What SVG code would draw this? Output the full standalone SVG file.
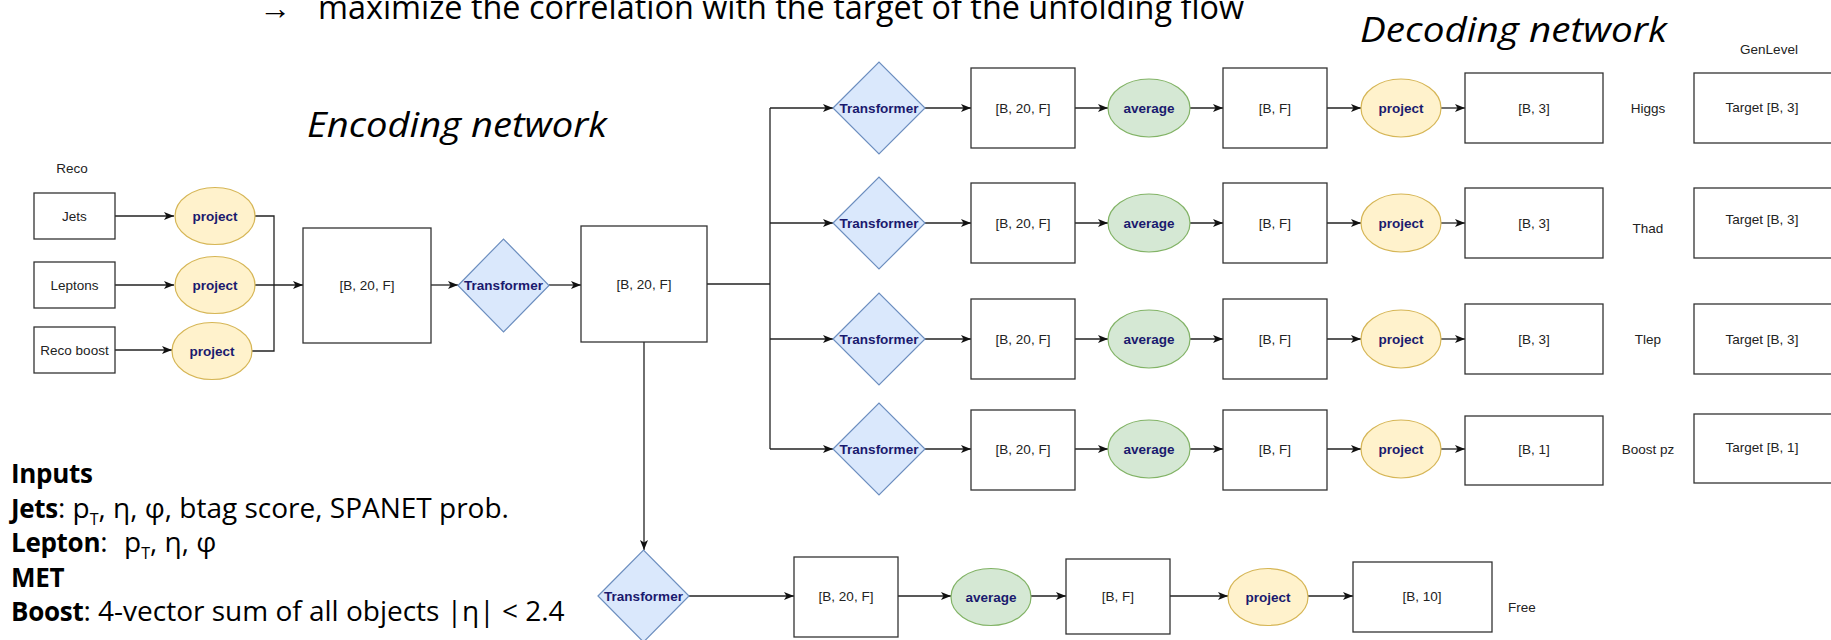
<svg xmlns="http://www.w3.org/2000/svg" width="1831" height="640" viewBox="0 0 1831 640">
<style>
.box{fill:#fff;stroke:#333;stroke-width:1.3}
.dia{fill:#dae8fc;stroke:#6c8ebf;stroke-width:1.2}
.yel{fill:#fff2cc;stroke:#d6b656;stroke-width:1.2}
.grn{fill:#d5e8d4;stroke:#82b366;stroke-width:1.2}
.t{font-family:"Liberation Sans",Arial,sans-serif;font-size:13.5px;fill:#222;text-anchor:middle;dominant-baseline:central}
.b{font-family:"Liberation Sans",Arial,sans-serif;font-size:13.5px;font-weight:bold;fill:#1a1a6e;text-anchor:middle;dominant-baseline:central}
.ln{fill:none;stroke:#222;stroke-width:1.3}
.ar{fill:none;stroke:#222;stroke-width:1.3;marker-end:url(#arr)}
.slide{font-family:"Open Sans","Noto Sans",sans-serif;fill:#000}
.bw{font-weight:bold;font-size:26px;letter-spacing:-0.3px}
</style>
<defs>
<marker id="arr" markerUnits="userSpaceOnUse" markerWidth="11" markerHeight="8" refX="10" refY="4" orient="auto">
<path d="M0,0 L10,4 L0,8 L2.5,4 z" fill="#111"/>
</marker>
</defs>
<rect width="1831" height="640" fill="#fff"/>

<g id="title">
<text class="slide" x="259" y="19" font-size="32">→</text>
<text class="slide" x="318" y="19" font-size="32" textLength="926" lengthAdjust="spacingAndGlyphs">maximize the correlation with the target of the unfolding flow</text>
</g>
<g id="enc-heading"><text class="slide" x="307" y="137" font-size="34" font-style="italic" textLength="300" lengthAdjust="spacingAndGlyphs">Encoding network</text></g>
<g id="dec-heading"><text class="slide" x="1360" y="42" font-size="34" font-style="italic" textLength="307" lengthAdjust="spacingAndGlyphs">Decoding network</text></g>

<g id="inputs" class="slide" font-size="28">
<text x="11" y="483" class="bw">Inputs</text>
<text x="11" y="518"><tspan class="bw">Jets</tspan>: p<tspan dy="7" font-size="16">T</tspan><tspan dy="-7">, η, φ, btag score, SPANET prob.</tspan></text>
<text x="11" y="552"><tspan class="bw">Lepton</tspan>:<tspan x="124">p</tspan><tspan dy="7" font-size="16">T</tspan><tspan dy="-7">, η, φ</tspan></text>
<text x="11" y="587" class="bw">MET</text>
<text x="11" y="621"><tspan class="bw">Boost</tspan>: 4-vector sum of all objects |η| &lt; 2.4</text>
</g>

<g id="connectors">
<line class="ar" x1="115" y1="216" x2="174" y2="216"/>
<line class="ar" x1="115" y1="285" x2="174" y2="285"/>
<line class="ar" x1="115" y1="350" x2="172" y2="350"/>
<polyline class="ln" points="255,216 274,216 274,351 252,351"/>
<line class="ar" x1="255" y1="285" x2="303" y2="285"/>
<line class="ar" x1="431" y1="285" x2="458" y2="285"/>
<line class="ar" x1="549" y1="285" x2="581" y2="285"/>
<line class="ln" x1="707" y1="284" x2="770" y2="284"/>
<line class="ln" x1="770" y1="108" x2="770" y2="449"/>
<line class="ar" x1="770" y1="108" x2="833" y2="108"/>
<line class="ar" x1="770" y1="223" x2="833" y2="223"/>
<line class="ar" x1="770" y1="339" x2="833" y2="339"/>
<line class="ar" x1="770" y1="449" x2="833" y2="449"/>
<line class="ar" x1="644" y1="342" x2="644" y2="550"/>
<line class="ar" x1="925" y1="108" x2="971" y2="108"/><line class="ar" x1="1075" y1="108" x2="1108" y2="108"/><line class="ar" x1="1190" y1="108" x2="1223" y2="108"/><line class="ar" x1="1327" y1="108" x2="1361" y2="108"/><line class="ar" x1="1441" y1="108" x2="1465" y2="108"/>
<line class="ar" x1="925" y1="223" x2="971" y2="223"/><line class="ar" x1="1075" y1="223" x2="1108" y2="223"/><line class="ar" x1="1190" y1="223" x2="1223" y2="223"/><line class="ar" x1="1327" y1="223" x2="1361" y2="223"/><line class="ar" x1="1441" y1="223" x2="1465" y2="223"/>
<line class="ar" x1="925" y1="339" x2="971" y2="339"/><line class="ar" x1="1075" y1="339" x2="1108" y2="339"/><line class="ar" x1="1190" y1="339" x2="1223" y2="339"/><line class="ar" x1="1327" y1="339" x2="1361" y2="339"/><line class="ar" x1="1441" y1="339" x2="1465" y2="339"/>
<line class="ar" x1="925" y1="449" x2="971" y2="449"/><line class="ar" x1="1075" y1="449" x2="1108" y2="449"/><line class="ar" x1="1190" y1="449" x2="1223" y2="449"/><line class="ar" x1="1327" y1="449" x2="1361" y2="449"/><line class="ar" x1="1441" y1="449" x2="1465" y2="449"/>
<line class="ar" x1="689" y1="596" x2="794" y2="596"/><line class="ar" x1="898" y1="596" x2="951" y2="596"/><line class="ar" x1="1031" y1="596" x2="1066" y2="596"/><line class="ar" x1="1170" y1="596" x2="1228" y2="596"/><line class="ar" x1="1308" y1="596" x2="1353" y2="596"/>
</g>

<g id="reco-label"><text class="t" x="72" y="168" font-size="13">Reco</text></g>
<g id="jets"><rect class="box" x="34" y="193" width="81" height="46"/><text class="t" x="74.5" y="216">Jets</text></g>
<g id="leptons"><rect class="box" x="34" y="262" width="81" height="46"/><text class="t" x="74.5" y="285">Leptons</text></g>
<g id="recoboost"><rect class="box" x="34" y="327" width="81" height="46"/><text class="t" x="74.5" y="350">Reco boost</text></g>
<g id="proj-jets"><ellipse class="yel" cx="215" cy="216" rx="40" ry="28.5"/><text class="b" x="215" y="216">project</text></g>
<g id="proj-leptons"><ellipse class="yel" cx="215" cy="285" rx="40" ry="28.5"/><text class="b" x="215" y="285">project</text></g>
<g id="proj-boost"><ellipse class="yel" cx="212" cy="351" rx="40" ry="28.5"/><text class="b" x="212" y="351">project</text></g>
<g id="enc-emb"><rect class="box" x="303" y="228" width="128" height="115"/><text class="t" x="367" y="285">[B, 20, F]</text></g>
<g id="enc-transformer"><polygon class="dia" points="458,285.5 503.5,239 549,285.5 503.5,332"/><text class="b" x="503.5" y="285.5">Transformer</text></g>
<g id="enc-out"><rect class="box" x="581" y="226" width="126" height="116"/><text class="t" x="644" y="284">[B, 20, F]</text></g>

<g id="higgs-row">
<polygon class="dia" points="833,108 879,62 925,108 879,154"/><text class="b" x="879" y="108">Transformer</text>
<rect class="box" x="971" y="68" width="104" height="80"/><text class="t" x="1023" y="108">[B, 20, F]</text>
<ellipse class="grn" cx="1149" cy="108" rx="41" ry="29"/><text class="b" x="1149" y="108">average</text>
<rect class="box" x="1223" y="68" width="104" height="80"/><text class="t" x="1275" y="108">[B, F]</text>
<ellipse class="yel" cx="1401" cy="108" rx="40" ry="29"/><text class="b" x="1401" y="108">project</text>
<rect class="box" x="1465" y="73" width="138" height="70"/><text class="t" x="1534" y="108">[B, 3]</text>
<text class="t" x="1648" y="108">Higgs</text>
</g>
<g id="thad-row">
<polygon class="dia" points="833,223 879,177 925,223 879,269"/><text class="b" x="879" y="223">Transformer</text>
<rect class="box" x="971" y="183" width="104" height="80"/><text class="t" x="1023" y="223">[B, 20, F]</text>
<ellipse class="grn" cx="1149" cy="223" rx="41" ry="29"/><text class="b" x="1149" y="223">average</text>
<rect class="box" x="1223" y="183" width="104" height="80"/><text class="t" x="1275" y="223">[B, F]</text>
<ellipse class="yel" cx="1401" cy="223" rx="40" ry="29"/><text class="b" x="1401" y="223">project</text>
<rect class="box" x="1465" y="188" width="138" height="70"/><text class="t" x="1534" y="223">[B, 3]</text>
<text class="t" x="1648" y="228">Thad</text>
</g>
<g id="tlep-row">
<polygon class="dia" points="833,339 879,293 925,339 879,385"/><text class="b" x="879" y="339">Transformer</text>
<rect class="box" x="971" y="299" width="104" height="80"/><text class="t" x="1023" y="339">[B, 20, F]</text>
<ellipse class="grn" cx="1149" cy="339" rx="41" ry="29"/><text class="b" x="1149" y="339">average</text>
<rect class="box" x="1223" y="299" width="104" height="80"/><text class="t" x="1275" y="339">[B, F]</text>
<ellipse class="yel" cx="1401" cy="339" rx="40" ry="29"/><text class="b" x="1401" y="339">project</text>
<rect class="box" x="1465" y="304" width="138" height="70"/><text class="t" x="1534" y="339">[B, 3]</text>
<text class="t" x="1648" y="339">Tlep</text>
</g>
<g id="boost-row">
<polygon class="dia" points="833,449 879,403 925,449 879,495"/><text class="b" x="879" y="449">Transformer</text>
<rect class="box" x="971" y="410" width="104" height="80"/><text class="t" x="1023" y="449">[B, 20, F]</text>
<ellipse class="grn" cx="1149" cy="449" rx="41" ry="29"/><text class="b" x="1149" y="449">average</text>
<rect class="box" x="1223" y="410" width="104" height="80"/><text class="t" x="1275" y="449">[B, F]</text>
<ellipse class="yel" cx="1401" cy="449" rx="40" ry="29"/><text class="b" x="1401" y="449">project</text>
<rect class="box" x="1465" y="416" width="138" height="69"/><text class="t" x="1534" y="449">[B, 1]</text>
<text class="t" x="1648" y="449">Boost pz</text>
</g>
<g id="free-row">
<polygon class="dia" points="598,596 643.5,550 689,596 643.5,642"/><text class="b" x="643.5" y="596">Transformer</text>
<rect class="box" x="794" y="557" width="104" height="80"/><text class="t" x="846" y="596">[B, 20, F]</text>
<ellipse class="grn" cx="991" cy="597" rx="40" ry="28.5"/><text class="b" x="991" y="597">average</text>
<rect class="box" x="1066" y="559" width="104" height="75"/><text class="t" x="1118" y="596">[B, F]</text>
<ellipse class="yel" cx="1268" cy="597" rx="40" ry="28.5"/><text class="b" x="1268" y="597">project</text>
<rect class="box" x="1353" y="562" width="139" height="70"/><text class="t" x="1422" y="596">[B, 10]</text>
<text class="t" x="1508" y="607" style="text-anchor:start">Free</text>
</g>

<g id="genlevel">
<text class="t" x="1769" y="49" font-size="12.5">GenLevel</text>
<g id="target-higgs"><rect class="box" x="1694" y="73" width="138" height="70"/><text class="t" x="1762" y="107">Target [B, 3]</text></g>
<g id="target-thad"><rect class="box" x="1694" y="188" width="138" height="70"/><text class="t" x="1762" y="219">Target [B, 3]</text></g>
<g id="target-tlep"><rect class="box" x="1694" y="304" width="138" height="70"/><text class="t" x="1762" y="339">Target [B, 3]</text></g>
<g id="target-boost"><rect class="box" x="1694" y="414" width="138" height="69"/><text class="t" x="1762" y="447">Target [B, 1]</text></g>
</g>
</svg>
